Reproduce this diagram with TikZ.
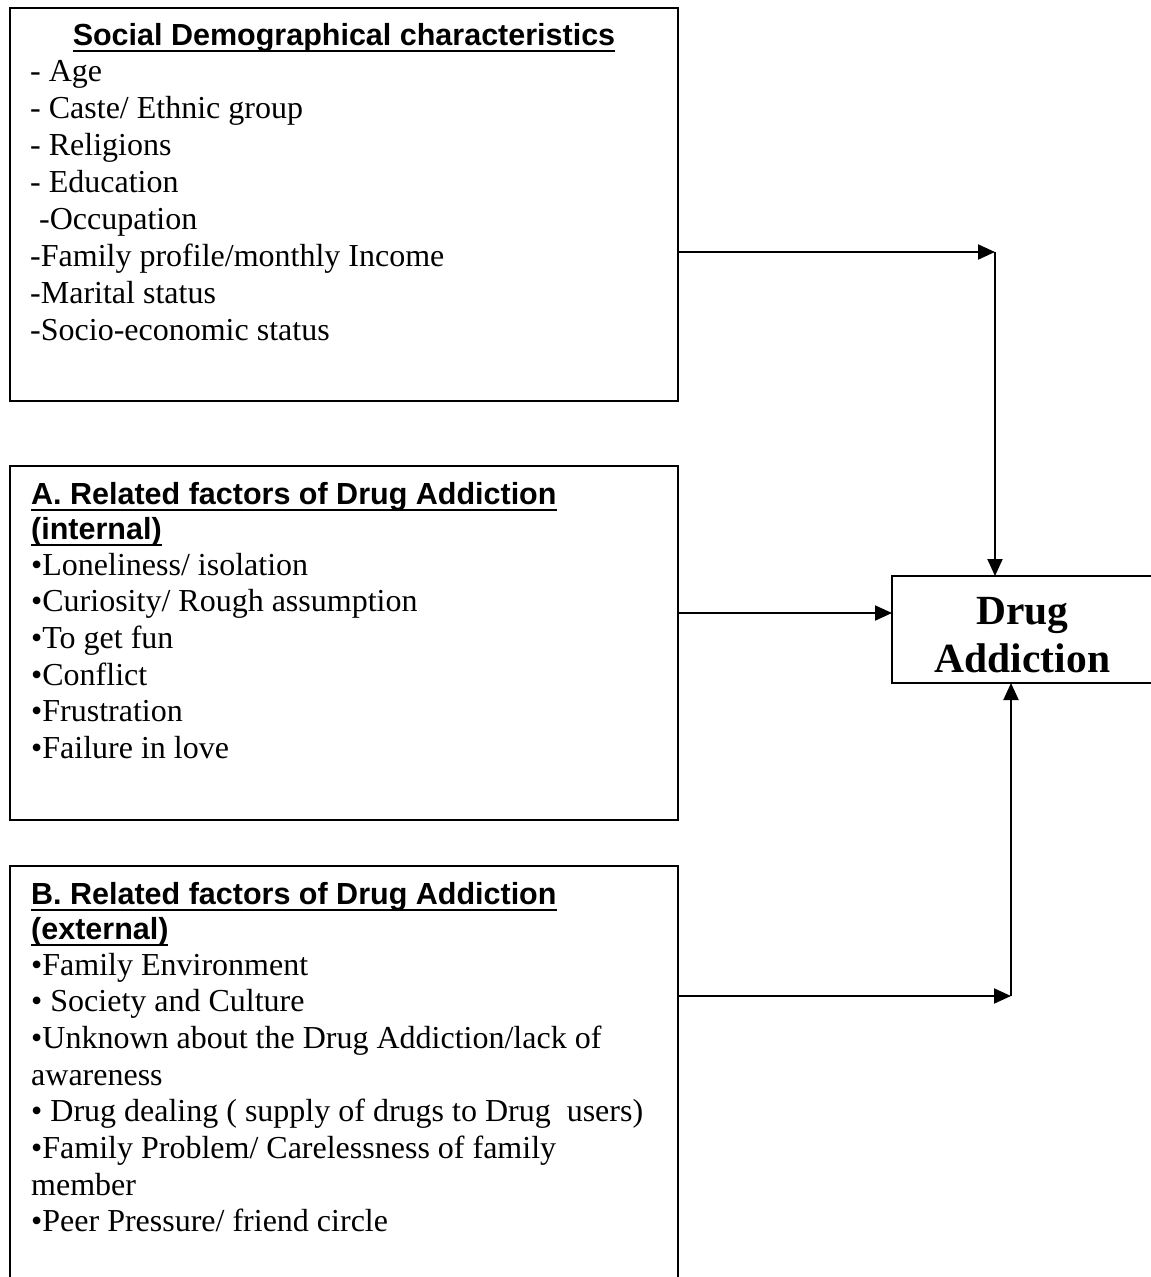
\documentclass[tikz,border=0pt]{standalone}
\usepackage{fontspec}
\setmainfont{Liberation Serif}
\setsansfont{Liberation Sans}
\usetikzlibrary{arrows.meta}
\newcommand\myul[1]{{\setbox0=\hbox{#1}\dp0=0pt \vtop{\box0 \kern5pt \hrule height 2pt}}}
\begin{document}
\begin{tikzpicture}[x=1pt,y=-1pt,
  box/.style={draw, line width=2pt, rectangle, anchor=north west, inner sep=0pt, outer sep=0pt},
  item/.style={inner sep=0pt, anchor=base west, font=\fontsize{32}{37}\selectfont},
  ttl/.style={inner sep=0pt, anchor=base west, font=\fontsize{30.5}{36}\selectfont\sffamily\bfseries},
  big/.style={inner sep=0pt, anchor=base, font=\fontsize{41.5}{48}\selectfont\bfseries},
  arr/.style={line width=2pt, -{Triangle[length=17pt,width=15pt]}}
]
\useasboundingbox (0,0) rectangle (1151,1277);
\clip (0,0) rectangle (1151,1277);

% boxes
\node[box, minimum width=668, minimum height=393] (soc) at (10,8) {};
\node[box, minimum width=668, minimum height=354] (intA) at (10,466) {};
\node[box, minimum width=668, minimum height=440] (extB) at (10,866) {};
\node[box, minimum width=261, minimum height=107] (drug) at (892,576) {};

% box 1 text
\node[ttl, anchor=base] (socT) at (344,45) {\myul{Social Demographical characteristics}};
\foreach \t [count=\i from 0] in {- Age, - Caste/ Ethnic group, - Religions, - Education,
  {\hspace*{9pt}-Occupation}, -Family profile/monthly Income, -Marital status, -Socio-economic status}
  \node[item] (s\i) at (30,{81+37*\i}) {\t};

% box A text
\node[ttl] (aT1) at (31,504) {\myul{A. Related factors of Drug Addiction}};
\node[ttl] (aT2) at (31,539) {\myul{(internal)}};
\foreach \t [count=\i from 0] in {•Loneliness/ isolation, •Curiosity/ Rough assumption, •To get fun,
  •Conflict, •Frustration, •Failure in love}
  \node[item] (a\i) at (31,{575+36.7*\i}) {\t};

% box B text
\node[ttl] (bT1) at (31,904) {\myul{B. Related factors of Drug Addiction}};
\node[ttl] (bT2) at (31,939) {\myul{(external)}};
\foreach \t [count=\i from 0] in {•Family Environment, • Society and Culture,
  •Unknown about the Drug Addiction/lack of, awareness,
  • Drug dealing ( supply of drugs to Drug~ users),
  •Family Problem/ Carelessness of family, member, •Peer Pressure/ friend circle}
  \node[item] (b\i) at (31,{975+36.7*\i}) {\t};

% drug addiction text
\begin{scope}
  \clip (892,576) rectangle (1153,673);
  \node[big] (d1) at (1022.5,624) {Drug};
  \node[big] (d2) at (1022.5,672) {Addiction};
\end{scope}

% connectors
\coordinate (j1) at (995,252);
\coordinate (j3) at (1011,996);
\coordinate (a2) at (0,613);
\draw[arr] (soc.east |- j1) -- (j1);
\draw[arr] (j1) -- (j1 |- drug.north);
\draw[arr] (intA.east |- a2) -- (drug.west |- a2);
\draw[arr] (extB.east |- j3) -- (j3);
\draw[arr] (j3) -- (j3 |- drug.south);
\end{tikzpicture}
\end{document}
